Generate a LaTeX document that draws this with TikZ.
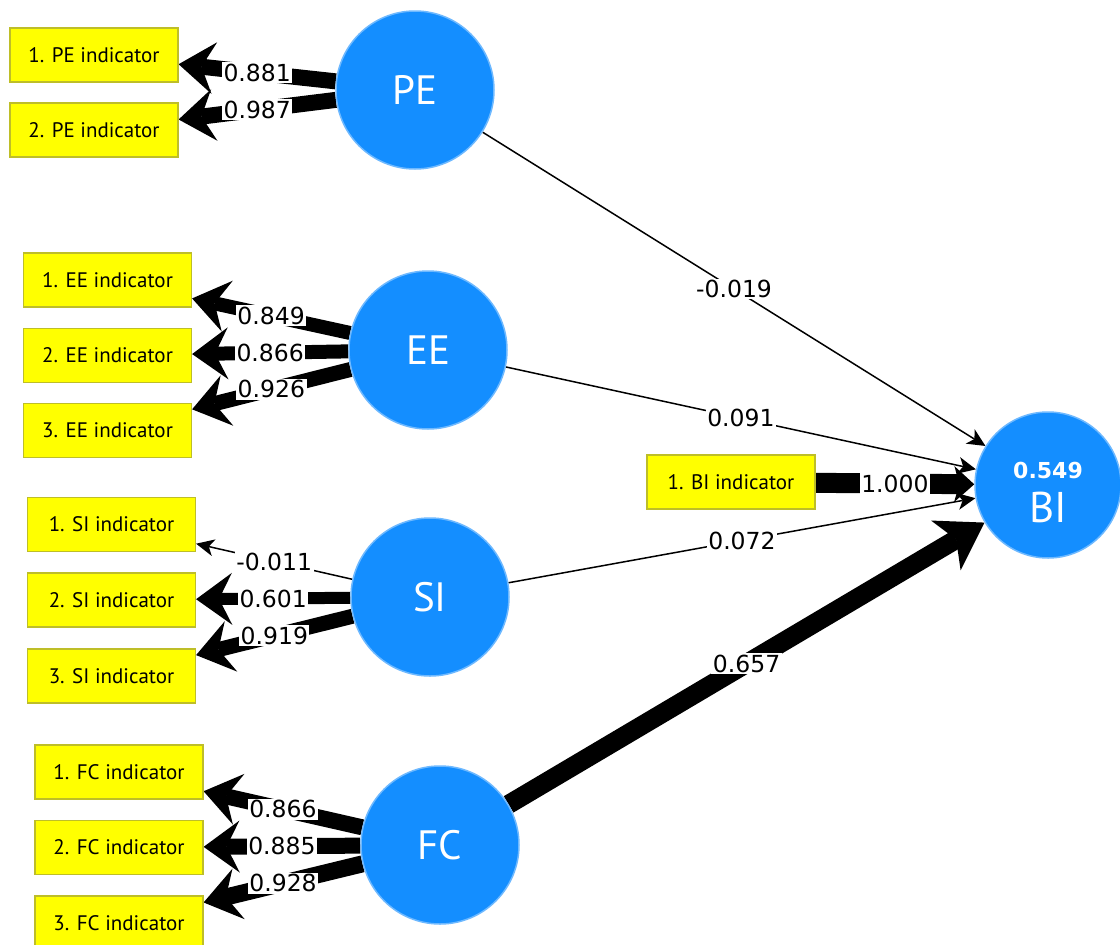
\documentclass[tikz,border=0pt]{standalone}
\usepackage{fontspec}
\setmainfont{PT Sans}
\newfontfamily\numfont{DejaVu Sans}
\usetikzlibrary{arrows.meta}
\usetikzlibrary{backgrounds}

\definecolor{plsblue}{RGB}{20,142,255}
\definecolor{plsrim}{RGB}{110,185,255}
\definecolor{plsyellow}{RGB}{255,255,0}
\definecolor{plsolive}{RGB}{190,190,40}

\begin{document}
\begin{tikzpicture}[x=1pt,y=-1pt,
    latent/.style={shape=circle,fill=plsblue,draw=plsrim,line width=1.5pt,
        minimum size=158pt,inner sep=0pt,text=white,font=\fontsize{41}{44}\selectfont},
    indicator/.style={shape=rectangle,fill=plsyellow,draw=plsolive,line width=1.2pt,
        minimum width=168pt,minimum height=54pt,inner sep=0pt,font=\fontsize{21}{24}\selectfont},
    coef/.style={fill=white,inner sep=1.5pt,font=\numfont\fontsize{23.5}{26}\selectfont},
    loadarrow/.style={-{Stealth[length=36pt,width=52pt,inset=13pt,line width=0pt]}},
    thinarrow/.style={-{Stealth[length=18pt,width=17pt,inset=5pt,line width=0pt]},line width=1.5pt}]
    \useasboundingbox (0,0) rectangle (1120,945);

    % constructs
    \node[latent] (PE) at (415,90) {PE};
    \node[latent] (EE) at (428,350) {EE};
    \node[latent] (SI) at (430,597) {SI};
    \node[latent] (FC) at (440,845) {FC};
    \node[latent,minimum size=146pt] (BI) at (1048,485) {};
    \node[text=white,font=\numfont\bfseries\fontsize{22}{24}\selectfont] (bir2) at ([yshift=15pt]BI.center) {0.549};
    \node[text=white,font=\fontsize{43}{44}\selectfont] (biname) at ([yshift=-22pt]BI.center) {BI};

    % indicators
    \node[indicator] (pe1) at (94,55) {1. PE indicator};
    \node[indicator] (pe2) at (94,130) {2. PE indicator};
    \node[indicator] (ee1) at (107.5,280) {1. EE indicator};
    \node[indicator] (ee2) at (107.5,355.5) {2. EE indicator};
    \node[indicator] (ee3) at (107.5,430.5) {3. EE indicator};
    \node[indicator] (si1) at (111.5,524.5) {1. SI indicator};
    \node[indicator] (si2) at (111.5,600) {2. SI indicator};
    \node[indicator] (si3) at (111.5,676) {3. SI indicator};
    \node[indicator] (fc1) at (119,772) {1. FC indicator};
    \node[indicator] (fc2) at (119,847.5) {2. FC indicator};
    \node[indicator] (fc3) at (119,923) {3. FC indicator};
    \node[indicator] (bi1) at (731,482) {1. BI indicator};

\begin{scope}[on background layer]
    \fill[white] (0,0) rectangle (1120,945);
    % outer loadings
    \path (PE) edge[loadarrow,line width=16pt] node[coef] {0.881} (pe1);
    \path (PE) edge[loadarrow,line width=16pt] node[coef] {0.987} (pe2);
    \path (EE) edge[loadarrow,line width=14pt] node[coef] {0.849} (ee1);
    \path (EE) edge[loadarrow,line width=14pt] node[coef] {0.866} (ee2);
    \path (EE) edge[loadarrow,line width=15pt] node[coef] {0.926} (ee3);
    \path (SI) edge[thinarrow] node[coef] {-0.011} (si1);
    \path (SI) edge[loadarrow,line width=12pt] node[coef] {0.601} (si2);
    \path (SI) edge[loadarrow,line width=15pt] node[coef] {0.919} (si3);
    \path (FC) edge[loadarrow,line width=16pt] node[coef] {0.866} (fc1);
    \path (FC) edge[loadarrow,line width=16pt] node[coef] {0.885} (fc2);
    \path (FC) edge[loadarrow,line width=17pt] node[coef] {0.928} (fc3);
    \path (bi1) edge[-{Stealth[length=20pt,width=36pt,inset=5pt,line width=0pt]},line width=20pt] node[coef] {1.000} (BI);
    % path coefficients
    \path (PE) edge[thinarrow] node[coef] {-0.019} (BI);
    \path (EE) edge[thinarrow] node[coef] {0.091} (BI);
    \path (SI) edge[thinarrow] node[coef] {0.072} (BI);
    \path (FC) edge[-{Stealth[length=45pt,width=58pt,inset=12pt,line width=0pt]},line width=19pt] node[coef] {0.657} (BI);
\end{scope}

\end{tikzpicture}
\end{document}
